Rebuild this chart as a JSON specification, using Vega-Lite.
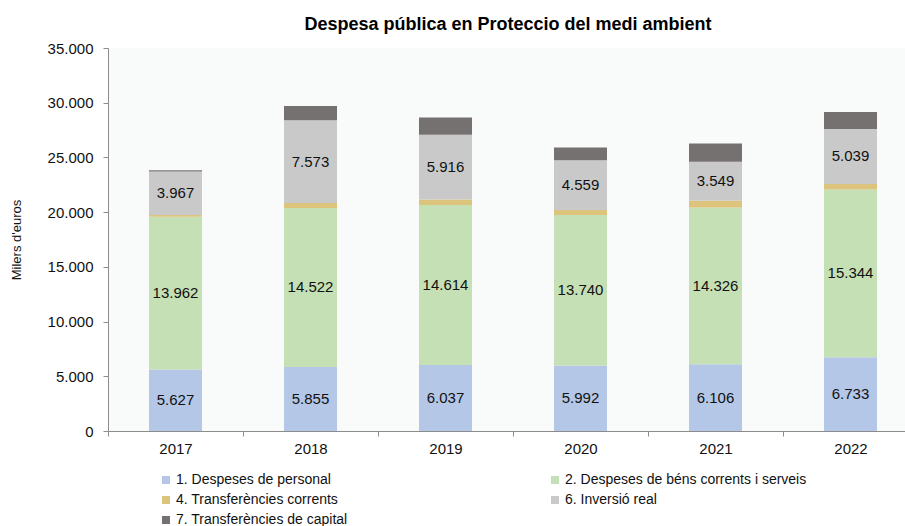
{
  "$schema": "https://vega.github.io/schema/vega-lite/v6.json",
  "width": 810,
  "height": 383,
  "autosize": {"type": "none"},
  "padding": {"left": 108, "top": 48, "right": 0, "bottom": 95},
  "background": "#ffffff",
  "title": {
    "text": "Despesa pública en Proteccio del medi ambient",
    "font": "Liberation Sans",
    "fontSize": 18,
    "fontWeight": "bold",
    "color": "#000000",
    "anchor": "middle",
    "dx": -5,
    "offset": 7
  },
  "config": {
    "locale": {
      "number": {"decimal": ",", "thousands": ".", "grouping": [3], "currency": ["", " €"]}
    },
    "view": {"fill": "#f9fbfb", "stroke": null},
    "font": "Liberation Sans"
  },
  "data": {
    "values": [
      {"year": "2017", "cat": "1. Despeses de personal", "value": 5627},
      {"year": "2017", "cat": "2. Despeses de béns corrents i serveis", "value": 13962},
      {"year": "2017", "cat": "4. Transferències corrents", "value": 150},
      {"year": "2017", "cat": "6. Inversió real", "value": 3967},
      {"year": "2017", "cat": "7. Transferències de capital", "value": 130},
      {"year": "2018", "cat": "1. Despeses de personal", "value": 5855},
      {"year": "2018", "cat": "2. Despeses de béns corrents i serveis", "value": 14522},
      {"year": "2018", "cat": "4. Transferències corrents", "value": 450},
      {"year": "2018", "cat": "6. Inversió real", "value": 7573},
      {"year": "2018", "cat": "7. Transferències de capital", "value": 1300},
      {"year": "2019", "cat": "1. Despeses de personal", "value": 6037},
      {"year": "2019", "cat": "2. Despeses de béns corrents i serveis", "value": 14614},
      {"year": "2019", "cat": "4. Transferències corrents", "value": 510},
      {"year": "2019", "cat": "6. Inversió real", "value": 5916},
      {"year": "2019", "cat": "7. Transferències de capital", "value": 1580},
      {"year": "2020", "cat": "1. Despeses de personal", "value": 5992},
      {"year": "2020", "cat": "2. Despeses de béns corrents i serveis", "value": 13740},
      {"year": "2020", "cat": "4. Transferències corrents", "value": 455},
      {"year": "2020", "cat": "6. Inversió real", "value": 4559},
      {"year": "2020", "cat": "7. Transferències de capital", "value": 1150},
      {"year": "2021", "cat": "1. Despeses de personal", "value": 6106},
      {"year": "2021", "cat": "2. Despeses de béns corrents i serveis", "value": 14326},
      {"year": "2021", "cat": "4. Transferències corrents", "value": 620},
      {"year": "2021", "cat": "6. Inversió real", "value": 3549},
      {"year": "2021", "cat": "7. Transferències de capital", "value": 1680},
      {"year": "2022", "cat": "1. Despeses de personal", "value": 6733},
      {"year": "2022", "cat": "2. Despeses de béns corrents i serveis", "value": 15344},
      {"year": "2022", "cat": "4. Transferències corrents", "value": 490},
      {"year": "2022", "cat": "6. Inversió real", "value": 5039},
      {"year": "2022", "cat": "7. Transferències de capital", "value": 1540}
    ]
  },
  "transform": [
    {"stack": "value", "groupby": ["year"], "sort": [{"field": "cat", "order": "ascending"}], "as": ["y0", "y1"]}
  ],
  "encoding": {
    "x": {
      "field": "year",
      "type": "ordinal",
      "scale": {"paddingInner": 0, "paddingOuter": 0},
      "axis": {
        "title": null,
        "labelAngle": 0,
        "labelFont": "Liberation Sans",
        "labelFontSize": 15,
        "labelColor": "#111111",
        "tickBand": "extent",
        "tickSize": 5,
        "tickColor": "#8c8c8c",
        "domainColor": "#8c8c8c",
        "labelPadding": 5
      }
    }
  },
  "layer": [
    {
      "mark": {"type": "bar", "width": 53},
      "encoding": {
        "y": {
          "field": "y1",
          "type": "quantitative",
          "scale": {"domain": [0, 35000]},
          "axis": {
            "title": "Milers d'euros",
            "titleFont": "Liberation Sans",
            "titleFontSize": 13,
            "titleFontWeight": "normal",
            "titleColor": "#111111",
            "titlePadding": 24,
            "values": [0, 5000, 10000, 15000, 20000, 25000, 30000, 35000],
            "format": ",.0f",
            "grid": false,
            "labelFont": "Liberation Sans",
            "labelFontSize": 15,
            "labelColor": "#111111",
            "labelPadding": 10,
            "tickSize": 5,
            "tickColor": "#8c8c8c",
            "domainColor": "#8c8c8c"
          }
        },
        "y2": {"field": "y0"},
        "color": {
          "field": "cat",
          "type": "nominal",
          "scale": {
            "domain": ["1. Despeses de personal", "2. Despeses de béns corrents i serveis", "4. Transferències corrents", "6. Inversió real", "7. Transferències de capital"],
            "range": ["#b4c7e7", "#c5e0b4", "#ddc47c", "#c9c9c9", "#767171"]
          },
          "legend": {
            "title": null,
            "orient": "none",
            "direction": "horizontal",
            "legendX": 51,
            "legendY": 425,
            "columns": 2,
            "columnPadding": 200,
            "rowPadding": 6,
            "symbolType": "square",
            "symbolSize": 64,
            "symbolStrokeWidth": 0,
            "labelFont": "Liberation Sans",
            "labelFontSize": 14,
            "labelColor": "#111111",
            "labelOffset": 3,
            "labelLimit": 400
          }
        }
      }
    },
    {
      "transform": [
        {"filter": "datum.cat == '1. Despeses de personal' || datum.cat == '2. Despeses de béns corrents i serveis' || datum.cat == '6. Inversió real'"},
        {"calculate": "(datum.y0 + datum.y1) / 2", "as": "ymid"}
      ],
      "mark": {"type": "text", "font": "Liberation Sans", "fontSize": 15, "color": "#111111", "baseline": "middle", "align": "center"},
      "encoding": {
        "y": {"field": "ymid", "type": "quantitative"},
        "text": {"field": "value", "type": "quantitative", "format": ","}
      }
    }
  ]
}
